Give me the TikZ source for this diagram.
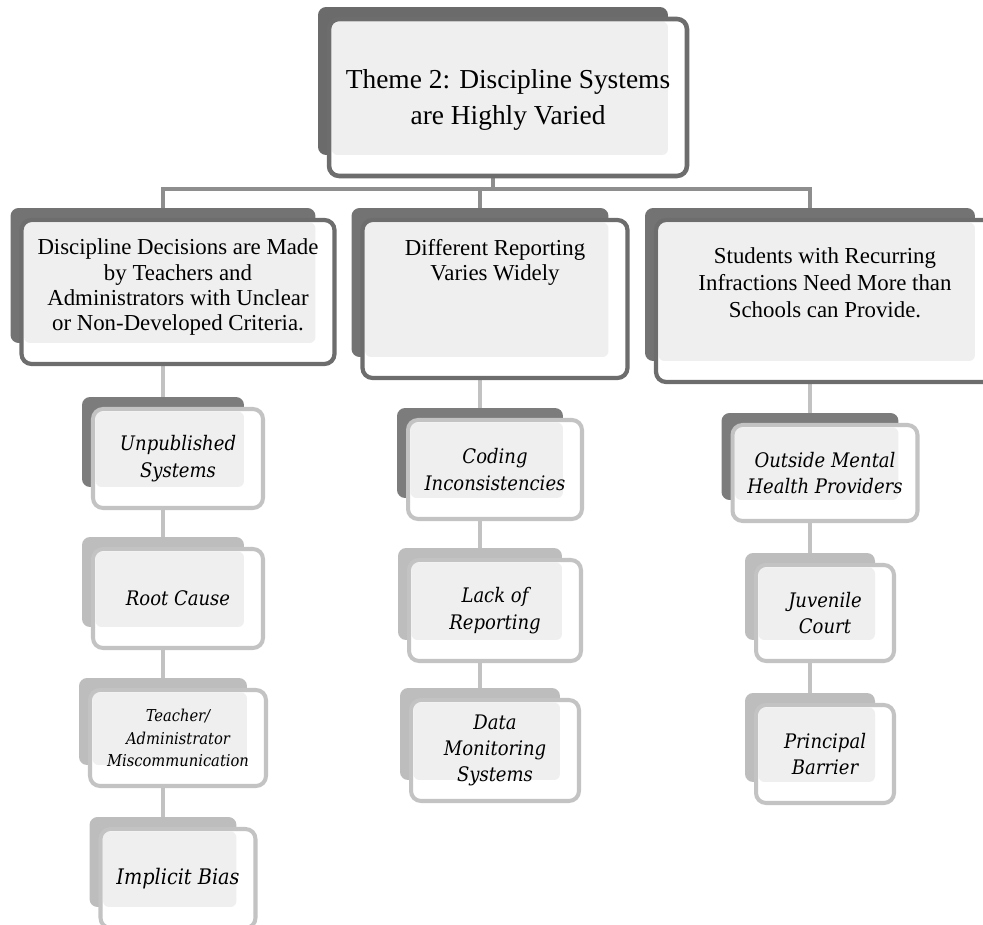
\documentclass[tikz,border=0pt]{standalone}
\usepackage{fontspec}
\setmainfont{Liberation Serif}
\newfontfamily\slabfont{DejaVu Serif Condensed}
\usetikzlibrary{backgrounds}

\definecolor{backtop}{HTML}{6B6B6B}
\definecolor{backmid}{HTML}{737373}
\definecolor{backdark}{HTML}{7C7C7C}
\definecolor{backlight}{HTML}{BDBDBD}
\definecolor{framedark}{HTML}{6D6D6D}
\definecolor{framelight}{HTML}{C3C3C3}
\definecolor{innergrey}{HTML}{EFEFEF}
\definecolor{trunkgrey}{HTML}{8E8E8E}
\definecolor{twiggrey}{HTML}{C2C2C2}

\tikzset{
  backbox/.style={fill=#1, rounded corners=0.16cm, inner sep=0pt},
  card/.style={fill=white, rounded corners=0.2cm, inner sep=0pt, align=center,
    path picture={\fill[innergrey, rounded corners=0.12cm]
      ([shift={(0.05cm,-0.05cm)}]path picture bounding box.north west) rectangle
      ([shift={(-0.38cm,0.42cm)}]path picture bounding box.south east);}},
  topcard/.style={card, draw=framedark, line width=2.6pt, font=\fontsize{15.6}{19.8}\selectfont},
  l2card/.style={card, draw=framedark, line width=2.4pt},
  lowcard/.style={card, draw=framelight, line width=2.3pt,
    font={\slabfont\itshape\fontsize{11.4}{15.2}\selectfont}},
  l2text/.style={align=center, anchor=north, font=\fontsize{13}{14.4}\selectfont},
  trunk/.style={draw=trunkgrey, line width=2.3pt},
  twig/.style={draw=twiggrey, line width=2.5pt}
}

% #1 back colour, #2 front style, #3 name, #4,#5 back centre (px), #6,#7 back size (cm), #8 text
\newcommand{\card}[8]{%
  \node[backbox=#1, minimum width=#6cm, minimum height=#7cm] (#3b) at (#4,#5) {};
  \node[#2, minimum width=#6cm+0.16cm, minimum height=#7cm+0.18cm] (#3)
    at ([shift={(0.3cm,-0.33cm)}]#3b.center) {#8};
}

\begin{document}
\begin{tikzpicture}[x=0.02cm, y=-0.02cm]
  \useasboundingbox (0,0) rectangle (983,925);

  % theme
  \card{backtop}{topcard}{top}{493}{81}{7.0}{2.96}{\raisebox{-0.05cm}[\height][\depth]{\shortstack{Theme 2: Discipline Systems\\[0.12cm]are Highly Varied}}}

  % sub-themes
  \card{backmid}{l2card, label={[l2text, yshift=-0.3cm]north:{Discipline Decisions are Made\\by Teachers and\\Administrators with Unclear\\or Non-Developed Criteria.}}}{l2a}{163}{275.5}{6.1}{2.7}{}
  \card{backmid}{l2card, label={[l2text, yshift=-0.3cm]north:{Different Reporting\\Varies Widely}}}{l2b}{480}{282.5}{5.14}{2.98}{}
  \card{backmid}{l2card, label={[l2text, yshift=-0.47cm, font=\fontsize{13}{15.4}\selectfont]north:{Students with Recurring\\Infractions Need More than\\Schools can Provide.}}}{l2c}{810}{284.5}{6.6}{3.06}{}

  % left column
  \card{backdark}{lowcard}{unpub}{163}{442}{3.24}{1.8}{Unpublished\\Systems}
  \card{backlight}{lowcard}{root}{163}{582}{3.24}{1.8}{Root Cause}
  \card{backlight}{lowcard, font={\slabfont\itshape\fontsize{9.3}{12.8}\selectfont}}{teach}{163}{721.5}{3.36}{1.74}{Teacher/\\Administrator\\Miscommunication}
  \card{backlight}{lowcard, font={\slabfont\itshape\fontsize{12.2}{15}\selectfont}}{impl}{163}{862}{2.94}{1.8}{Implicit Bias}

  % middle column
  \card{backdark}{lowcard}{coding}{480}{453}{3.32}{1.8}{Coding\\Inconsistencies}
  \card{backlight}{lowcard}{lack}{480}{594}{3.28}{1.84}{Lack of\\Reporting}
  \card{backlight}{lowcard, font={\slabfont\itshape\fontsize{11.4}{14.7}\selectfont}}{data}{480}{734}{3.2}{1.84}{Data\\Monitoring\\Systems}

  % right column
  \card{backdark}{lowcard}{outside}{810}{456.5}{3.54}{1.74}{Outside Mental\\Health Providers}
  \card{backlight}{lowcard}{juv}{810}{596.5}{2.6}{1.74}{Juvenile\\Court}
  \card{backlight}{lowcard}{princ}{810}{737.5}{2.6}{1.78}{Principal\\Barrier}

  \coordinate (bus) at (493,189);
  \begin{scope}[on background layer]
    \draw[trunk] (topb) -- (bus);
    \draw[trunk] (l2ab) |- (bus) -| (l2cb);
    \draw[trunk] (bus) -| (l2bb);
    \draw[twig] (l2ab) -- (unpubb) -- (rootb) -- (teachb) -- (implb);
    \draw[twig] (l2bb) -- (codingb) -- (lackb) -- (datab);
    \draw[twig] (l2cb) -- (outsideb) -- (juvb) -- (princb);
  \end{scope}
\end{tikzpicture}
\end{document}
